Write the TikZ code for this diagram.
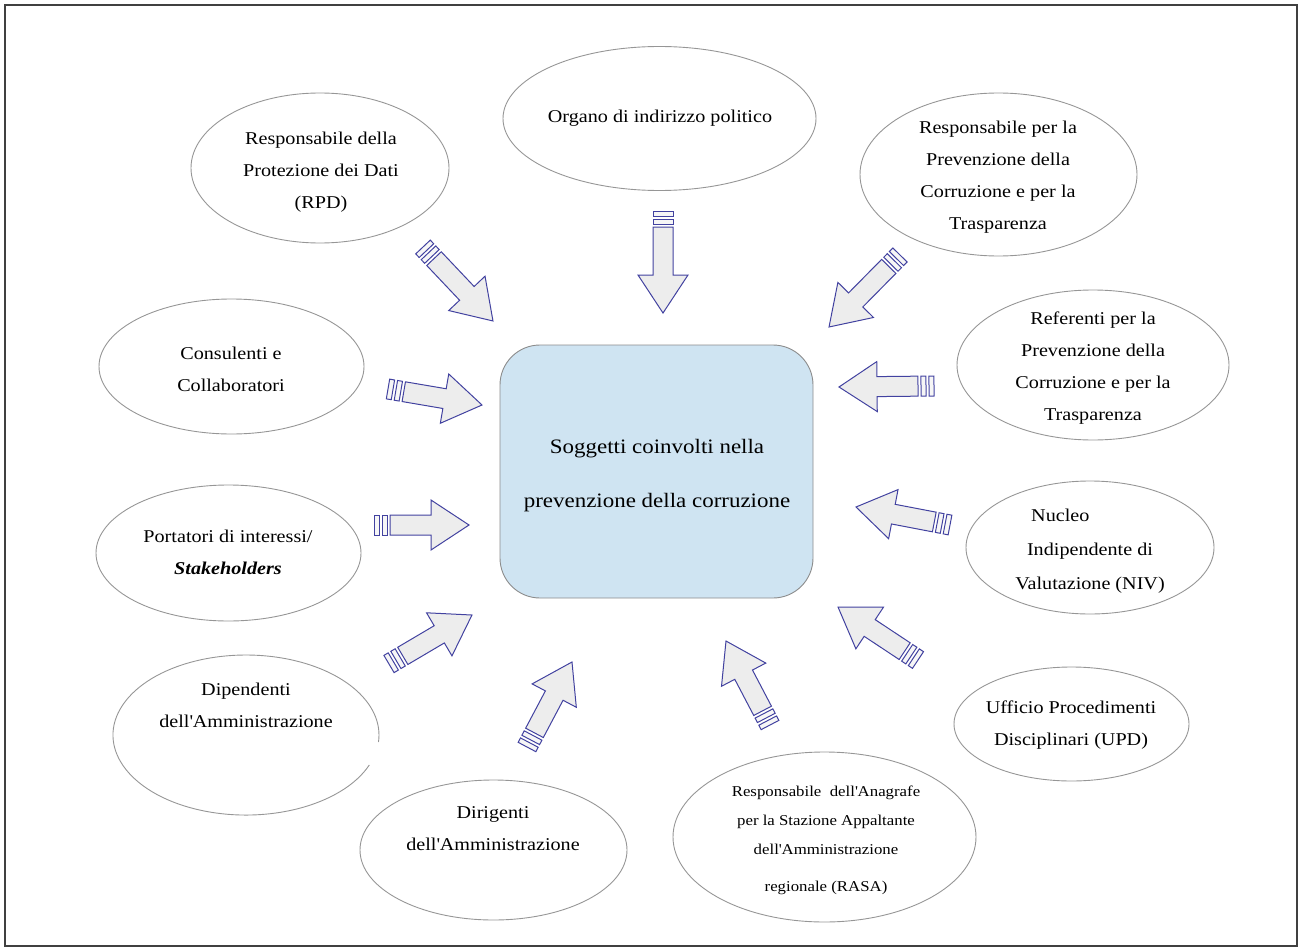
\documentclass[tikz,border=0pt]{standalone}
\usepackage{fontspec}
\setmainfont[FakeStretch=1.12]{Liberation Serif}
\usetikzlibrary{shapes.geometric}

\definecolor{arrowblue}{RGB}{66,66,160}
\definecolor{arrowfill}{RGB}{237,237,237}
\definecolor{hubfill}{RGB}{207,228,242}
\definecolor{ringgray}{RGB}{150,150,150}

% straight apostrophe
\newcommand\ap{\textquotesingle}

% striped block arrow from tail (x1,y1) to tip (x2,y2)
\newcommand\blockarr[4]{%
  \pgfmathsetmacro\baAng{atan2(-(#4-#2),#3-#1)}%
  \pgfmathsetmacro\baLen{veclen(#3-#1,#4-#2)}%
  \pgfmathsetmacro\baNeck{\baLen-38}%
  \begin{scope}[shift={(#1,#2)},rotate=\baAng]
    \draw[stripe] (0,-10) rectangle (5,10);
    \draw[stripe] (8,-10) rectangle (13,10);
    \draw[blockarrow] (16,-10) -- (\baNeck,-10) -- (\baNeck,-25) -- (\baLen,0)
      -- (\baNeck,25) -- (\baNeck,10) -- (16,10) -- cycle;
  \end{scope}}

\begin{document}
\begin{tikzpicture}[x=1pt,y=-1pt,
  ring/.style={ellipse,draw=ringgray,line width=0.9pt,inner sep=0pt},
  lbl/.style={align=center,inner sep=0pt,font=\fontsize{18}{32}\selectfont},
  blockarrow/.style={draw=arrowblue,fill=arrowfill,line width=1pt},
  stripe/.style={draw=arrowblue,fill=arrowfill!50,line width=1pt}]
\useasboundingbox (0,0) rectangle (1301,947);
\draw[line width=1.6pt,black!75] (5,5) rectangle (1297,946);

% central box
\node[draw=black!45,fill=hubfill,rounded corners=40pt,line width=0.9pt,
      minimum width=313pt,minimum height=253pt] (hub) at (656.5,471.5) {};
\node[align=center,font=\fontsize{20.5}{54}\selectfont] (hubtxt) at (657,475.5)
  {Soggetti coinvolti nella\\prevenzione della corruzione};

% surrounding subjects
\node[ring,minimum width=258pt,minimum height=150pt] (rpd) at (320,168) {};
\node[lbl] (rpdtxt) at (321,172.5) {Responsabile della\\Protezione dei Dati\\(RPD)};

\node[ring,minimum width=313pt,minimum height=144pt] (org) at (659.5,118.5) {};
\node[lbl] (orgtxt) at (660,118) {Organo di indirizzo politico};

\node[ring,minimum width=277pt,minimum height=163pt] (rpct) at (998.5,174.5) {};
\node[lbl] (rpcttxt) at (998,177) {Responsabile per la\\Prevenzione della\\Corruzione e per la\\Trasparenza};

\node[ring,minimum width=265pt,minimum height=135pt] (cons) at (231.5,366.5) {};
\node[lbl] (constxt) at (231,369.5) {Consulenti e\\Collaboratori};

\node[ring,minimum width=272pt,minimum height=150pt] (ref) at (1093,365) {};
\node[lbl] (reftxt) at (1093,368) {Referenti per la\\Prevenzione della\\Corruzione e per la\\Trasparenza};

\node[ring,minimum width=265pt,minimum height=136pt] (port) at (228.5,553) {};
\node[lbl] (porttxt) at (228,552) {Portatori di interessi/\\\textbf{\textit{Stakeholders}}};

\node[ring,minimum width=248pt,minimum height=133pt] (niv) at (1090,547.5) {};
\node[lbl,font=\fontsize{18}{34}\selectfont] (nivtxt) at (1090,551)
  {Nucleo\hspace*{3.3em}\mbox{}\\Indipendente di\\Valutazione (NIV)};

\node[ring,minimum width=235pt,minimum height=114pt] (upd) at (1071.5,724) {};
\node[lbl] (updtxt) at (1071,725) {Ufficio Procedimenti\\Disciplinari (UPD)};

\node[inner sep=0pt,minimum width=266pt,minimum height=160pt] (dip) at (246,735) {};
\draw[ringgray,line width=0.9pt] (369.3,765) arc[start angle=22,end angle=365,x radius=133,y radius=80];
\node[lbl] (diptxt) at (246,705.5) {Dipendenti\\dell\ap Amministrazione};

\node[ring,minimum width=267pt,minimum height=140pt] (dir) at (493.5,850) {};
\node[lbl] (dirtxt) at (493,829) {Dirigenti\\dell\ap Amministrazione};

\node[ring,minimum width=303pt,minimum height=170pt] (rasa) at (824.5,837) {};
\node[lbl,font=\fontsize{15}{29}\selectfont] (rasatxt) at (826,840)
  {Responsabile\ \ dell\ap Anagrafe\\per la Stazione Appaltante\\dell\ap Amministrazione\\[8pt]regionale (RASA)};

% arrows pointing at the central box
\blockarr{423}{247}{493}{321}
\blockarr{663}{211}{663}{313}
\blockarr{900}{255}{829}{327}
\blockarr{388}{389}{482}{405}
\blockarr{934}{386}{839}{387}
\blockarr{374}{525}{469}{525}
\blockarr{950}{525}{856}{507}
\blockarr{389}{664}{472}{615}
\blockarr{527}{747}{572}{662}
\blockarr{770}{725}{726}{641}
\blockarr{918}{660}{838}{607}
\end{tikzpicture}
\end{document}
